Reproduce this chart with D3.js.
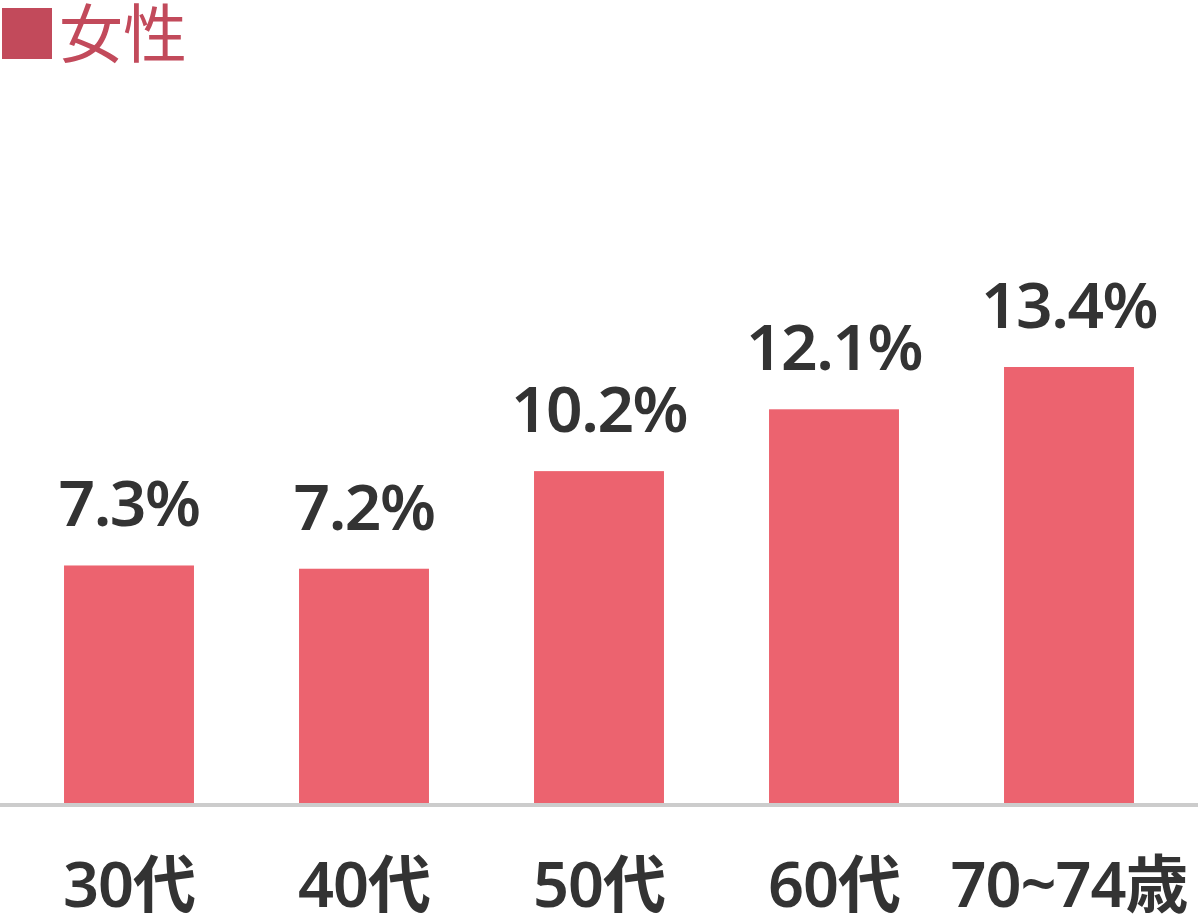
<!DOCTYPE html>
<html><head><meta charset="utf-8">
<script src="https://cdn.jsdelivr.net/npm/d3@7"></script>
<style>html,body{margin:0;padding:0;background:#fff;}</style>
</head><body>
<svg id="chart" width="1200" height="920"></svg>
<script>
const categories = ["30代", "40代", "50代", "60代", "70~74歳"];
const values = [7.3, 7.2, 10.2, 12.1, 13.4];
const valueLabels = ["7.3%", "7.2%", "10.2%", "12.1%", "13.4%"];
const title = "女性";

const svg = d3.select("#chart");
const font = "'Noto Sans CJK JP', 'Noto Sans', sans-serif";
const numFont = "'Noto Sans', 'Noto Sans CJK JP', sans-serif";

const x = d3.scaleBand().domain(categories).range([11.5, 1186.5]).paddingInner(0.447).paddingOuter(0.2235);
const y = d3.scaleLinear().domain([0, 13.4]).range([803, 367]);

// title
svg.append("rect").attr("x", 2).attr("y", 8).attr("width", 50).attr("height", 51).attr("fill", "#c24a5b");
svg.append("text").attr("x", 59).attr("y", 57).attr("font-family", font).attr("font-size", 64)
  .attr("fill", "#c24a5b").text(title);

// bars
svg.selectAll("rect.bar").data(values).enter().append("rect").attr("class", "bar")
  .attr("x", (d, i) => x(categories[i]))
  .attr("width", x.bandwidth())
  .attr("y", d => y(d))
  .attr("height", d => y(0) - y(d))
  .attr("fill", "#ec636f");

// value labels
svg.selectAll("text.val").data(values).enter().append("text").attr("class", "val")
  .attr("x", (d, i) => x(categories[i]) + x.bandwidth() / 2)
  .attr("y", d => y(d) - 39)
  .attr("text-anchor", "middle")
  .attr("font-family", numFont).attr("font-size", 64).attr("font-weight", 600)
  .attr("letter-spacing", -1.5)
  .attr("fill", "#333").text((d, i) => valueLabels[i]);

// axis
const axis = svg.append("g").attr("transform", "translate(0,805)")
  .call(d3.axisBottom(x).tickSize(0).tickPadding(0));
axis.select(".domain").remove();
svg.append("line").attr("x1", 0).attr("x2", 1198).attr("y1", 805).attr("y2", 805)
  .attr("stroke", "#cccccc").attr("stroke-width", 4);
axis.selectAll("text").attr("y", 102).attr("dy", null)
  .attr("font-family", numFont).attr("font-size", 63).attr("font-weight", 600)
  .attr("letter-spacing", -1).attr("fill", "#333");
</script>
</body></html>
